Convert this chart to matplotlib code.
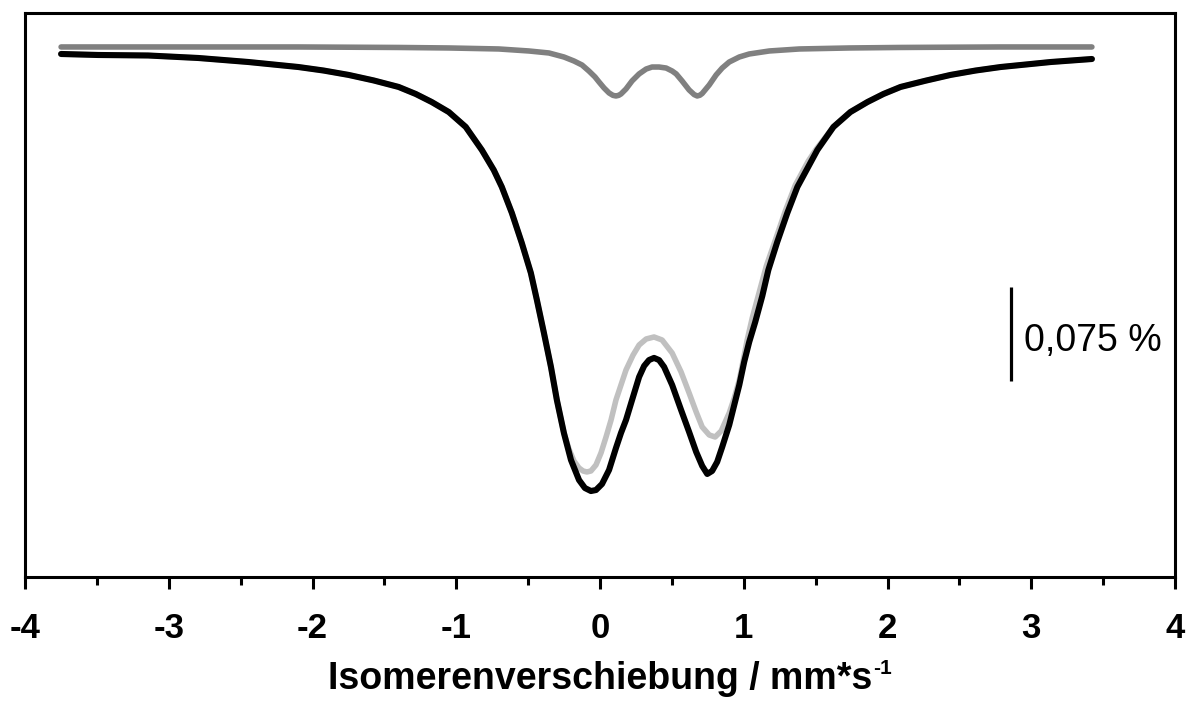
import matplotlib
matplotlib.use("Agg")
import matplotlib.pyplot as plt
from matplotlib.ticker import MultipleLocator

plt.rcParams["axes.unicode_minus"] = False

# velocity (mm/s) and relative transmission change (%)
x_total = [-3.749, -3.491, -3.143, -2.794, -2.446, -2.272, -2.098, -1.923, -1.749, -1.575,
           -1.401, -1.282, -1.171, -1.052, -0.934, -0.822, -0.739, -0.683, -0.613, -0.544,
           -0.481, -0.439, -0.390, -0.341, -0.300, -0.251, -0.202, -0.146, -0.105, -0.063,
           -0.028, 0.014, 0.063, 0.111, 0.146, 0.181, 0.223, 0.272, 0.307, 0.341,
           0.376, 0.411, 0.446, 0.502, 0.564, 0.620, 0.669, 0.711, 0.746, 0.780,
           0.815, 0.850, 0.899, 0.934, 0.969, 1.003, 1.038, 1.080, 1.129, 1.171,
           1.233, 1.303, 1.373, 1.463, 1.512, 1.624, 1.742, 1.861, 1.972, 2.091,
           2.265, 2.439, 2.613, 2.787, 2.962, 3.136, 3.422]
y_total = [-0.0056, -0.0064, -0.0068, -0.0088, -0.0120, -0.0140, -0.0160, -0.0188, -0.0223, -0.0267,
           -0.0319, -0.0375, -0.0439, -0.0519, -0.0638, -0.0822, -0.0982, -0.1117, -0.1325, -0.1564,
           -0.1803, -0.2019, -0.2282, -0.2554, -0.2817, -0.3080, -0.3295, -0.3455, -0.3519, -0.3543,
           -0.3535, -0.3487, -0.3375, -0.3200, -0.3080, -0.2976, -0.2817, -0.2633, -0.2545, -0.2498,
           -0.2481, -0.2498, -0.2553, -0.2697, -0.2896, -0.3072, -0.3231, -0.3343, -0.3407, -0.3383,
           -0.3311, -0.3192, -0.3016, -0.2856, -0.2697, -0.2513, -0.2354, -0.2194, -0.1987, -0.1780,
           -0.1556, -0.1325, -0.1117, -0.0926, -0.0822, -0.0638, -0.0519, -0.0439, -0.0375, -0.0319,
           -0.0269, -0.0223, -0.0188, -0.0160, -0.0140, -0.0120, -0.0096]

x_doublet1 = [-3.749, -3.491, -3.143, -2.794, -2.446, -2.272, -2.098, -1.923, -1.749, -1.575,
              -1.401, -1.282, -1.171, -1.052, -0.934, -0.822, -0.739, -0.683, -0.613, -0.544,
              -0.481, -0.439, -0.390, -0.341, -0.300, -0.251, -0.216, -0.181, -0.146, -0.118,
              -0.091, -0.063, -0.028, 0.007, 0.042, 0.077, 0.111, 0.146, 0.181, 0.230,
              0.272, 0.321, 0.376, 0.432, 0.502, 0.564, 0.620, 0.669, 0.711, 0.760,
              0.801, 0.843, 0.899, 0.934, 0.969, 0.997, 1.024, 1.059, 1.108, 1.157,
              1.220, 1.289, 1.359, 1.449, 1.505, 1.624, 1.742, 1.861, 1.972, 2.091,
              2.265, 2.439, 2.613, 2.787, 2.962, 3.136, 3.422]
y_doublet1 = [-0.0056, -0.0064, -0.0068, -0.0088, -0.0120, -0.0140, -0.0160, -0.0188, -0.0223, -0.0267,
              -0.0319, -0.0375, -0.0439, -0.0519, -0.0638, -0.0822, -0.0982, -0.1117, -0.1325, -0.1564,
              -0.1803, -0.2019, -0.2282, -0.2554, -0.2817, -0.3080, -0.3208, -0.3304, -0.3359, -0.3383,
              -0.3391, -0.3383, -0.3335, -0.3239, -0.3112, -0.2976, -0.2817, -0.2697, -0.2577, -0.2458,
              -0.2378, -0.2330, -0.2314, -0.2338, -0.2442, -0.2593, -0.2761, -0.2912, -0.3032, -0.3096,
              -0.3112, -0.3064, -0.2920, -0.2801, -0.2657, -0.2498, -0.2338, -0.2163, -0.1955, -0.1748,
              -0.1540, -0.1309, -0.1101, -0.0910, -0.0814, -0.0638, -0.0519, -0.0439, -0.0375, -0.0319,
              -0.0269, -0.0223, -0.0188, -0.0160, -0.0140, -0.0120, -0.0096]

x_doublet2 = [-3.749, -2.794, -2.098, -1.401, -1.052, -0.704, -0.495, -0.355, -0.251, -0.181,
              -0.125, -0.077, -0.035, -0.007, 0.028, 0.063, 0.090, 0.111, 0.130, 0.146, 0.181, 0.223,
              0.272, 0.321, 0.362, 0.411, 0.460, 0.502, 0.530, 0.571, 0.620, 0.655, 0.676, 0.695,
              0.711, 0.760, 0.808, 0.850, 0.899, 0.969, 1.038, 1.178, 1.387, 1.735,
              2.084, 2.780, 3.422]
y_doublet2 = [0.0, 0.0, 0.0, -0.0004, -0.0008, -0.0016, -0.0032, -0.0048, -0.0080, -0.0112,
              -0.0144, -0.0192, -0.0239, -0.0279, -0.0327, -0.0367, -0.0386, -0.0391, -0.0386, -0.0375, -0.0335, -0.0271,
              -0.0215, -0.0176, -0.0160, -0.0160, -0.0168, -0.0192, -0.0215, -0.0271, -0.0343, -0.0380, -0.0391, -0.0385,
              -0.0371, -0.0303, -0.0223, -0.0168, -0.0120, -0.0080, -0.0056, -0.0032, -0.0016, -0.0008,
              -0.0004, 0.0, 0.0]

scale_bar_x = 2.857
scale_bar_y = [-0.1915, -0.2665]
scale_bar_label = "0,075 %"

xlim = (-4, 4)
ylim = (-0.4229, 0.0271)

fig = plt.figure(figsize=(11.92, 7.02), dpi=100)
ax = fig.add_axes([25/1192, 1 - 577/702, (1175 - 25)/1192, (577 - 13)/702])

ax.plot(x_doublet1, y_doublet1, color="#c0c0c0", lw=4.0, solid_capstyle="round", solid_joinstyle="round", zorder=2)
ax.plot(x_total, y_total, color="black", lw=4.4, solid_capstyle="round", solid_joinstyle="round", zorder=3)
ax.plot(x_doublet2, y_doublet2, color="#808080", lw=4.0, solid_capstyle="round", solid_joinstyle="round", zorder=4)

ax.plot([scale_bar_x, scale_bar_x], scale_bar_y, color="black", lw=2.3, solid_capstyle="butt")
ax.text(scale_bar_x + 0.09, sum(scale_bar_y) / 2 - 0.006, scale_bar_label, fontsize=27,
        family="Liberation Sans", ha="left", va="center")

ax.set_xlim(*xlim)
ax.set_ylim(*ylim)
ax.xaxis.set_major_locator(MultipleLocator(1))
ax.xaxis.set_minor_locator(MultipleLocator(0.5))
ax.set_yticks([])
ax.tick_params(axis="x", which="major", direction="out", length=8.5, width=2.2, pad=17,
               labelsize=25)
ax.tick_params(axis="x", which="minor", direction="out", length=6, width=2.2)
for lab in ax.get_xticklabels():
    lab.set_family("Liberation Sans")
    lab.set_fontweight("bold")
for s in ax.spines.values():
    s.set_linewidth(2.2)
    s.set_color("black")

ax.set_xlabel("Isomerenverschiebung / mm*s", fontsize=27, fontweight="bold",
              family="Liberation Sans", labelpad=11)
ax.annotate("-1", xy=(1.0, 1.0), xycoords=ax.xaxis.label, xytext=(1, 1),
            textcoords="offset points", ha="left", va="top", fontsize=15,
            fontweight="bold", family="Liberation Sans")

fig.savefig("out.png", dpi=100)
